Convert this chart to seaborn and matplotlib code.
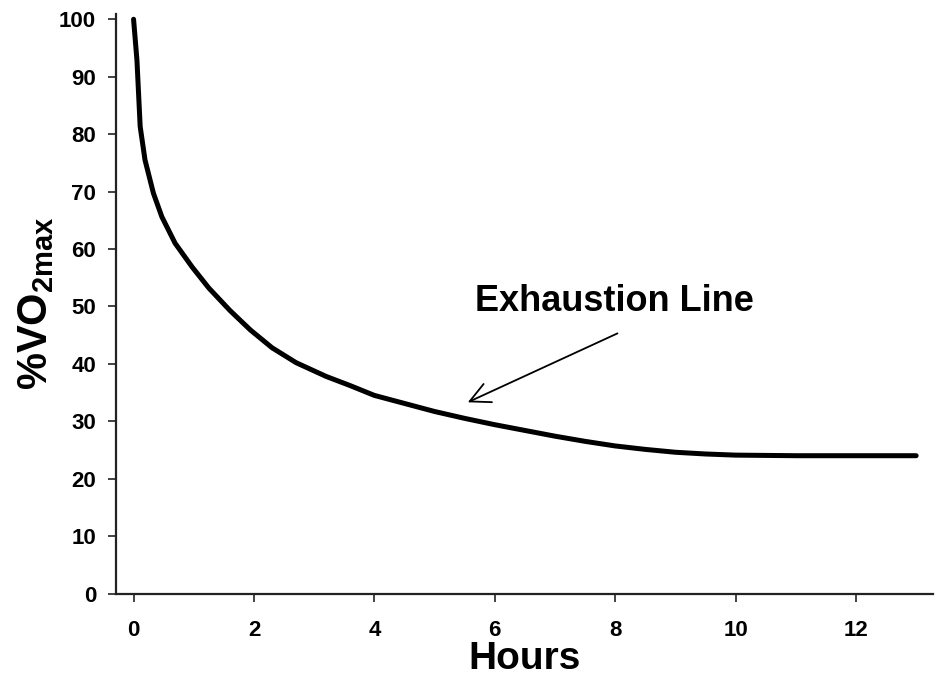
import numpy as np
import pandas as pd
import matplotlib
matplotlib.use("Agg")
import matplotlib.pyplot as plt
import seaborn as sns

# values
hours = [0, 0.056, 0.083, 0.11, 0.19, 0.33, 0.47, 0.69, 0.97, 1.25, 1.6,
         1.94, 2.3, 2.7, 3.2, 3.6, 4.0, 4.5, 5.0, 5.5, 6.0, 6.5, 7.0, 7.5,
         8.0, 8.5, 9.0, 9.5, 10, 11, 12, 13]
vo2 = [100, 92.9, 87.1, 81.3, 75.5, 69.7, 65.6, 61.0, 56.9, 53.2, 49.3,
       45.9, 42.8, 40.2, 37.8, 36.2, 34.5, 33.1, 31.7, 30.5, 29.4, 28.4, 27.4, 26.5,
       25.7, 25.1, 24.6, 24.3, 24.1, 24.0, 24.0, 24.0]
x_ticks = [0, 2, 4, 6, 8, 10, 12]
y_ticks = [0, 10, 20, 30, 40, 50, 60, 70, 80, 90, 100]
annot_text = "Exhaustion Line"
annot_xy = (5.51, 33.1)
annot_text_xy = (7.98, 50.8)
arrow_tail = (8.08, 45.5)

df = pd.DataFrame({"Hours": hours, "VO2": vo2})

sns.set_style("ticks")
plt.rcParams['font.family'] = ['Liberation Sans', 'DejaVu Sans']
plt.rcParams['font.weight'] = 'bold'
plt.rcParams['text.color'] = 'black'
plt.rcParams['axes.labelcolor'] = 'black'
plt.rcParams['xtick.color'] = 'black'
plt.rcParams['ytick.color'] = 'black'
plt.rcParams['mathtext.fontset'] = 'custom'
plt.rcParams['mathtext.rm'] = 'Liberation Sans:bold'
plt.rcParams['mathtext.it'] = 'Liberation Sans:bold'
plt.rcParams['mathtext.bf'] = 'Liberation Sans:bold'

fig = plt.figure(figsize=(9.36, 6.86), dpi=100)
ax = fig.add_axes([0.1234, 0.1348, 0.8734, 0.8455])

sns.lineplot(data=df, x="Hours", y="VO2", ax=ax, color="black",
             linewidth=3.6, solid_capstyle="round")

ax.set_xlim(-0.3, 13.28)
ax.set_ylim(0, 101)
ax.set_xticks(x_ticks)
ax.set_yticks(y_ticks)
ax.tick_params(axis="both", labelsize=16, width=1.2, length=6, color="#222222")
ax.tick_params(axis="y", pad=8)
ax.tick_params(axis="x", pad=13)
for lab in ax.get_xticklabels() + ax.get_yticklabels():
    lab.set_fontweight("bold")
sns.despine(ax=ax)
for s in ["left", "bottom"]:
    ax.spines[s].set_linewidth(1.6)
    ax.spines[s].set_color("#222222")

ax.set_xlabel("Hours", fontsize=28, fontweight="bold", labelpad=0)
ax.set_ylabel(r"%VO$_{2max}$", fontsize=30, fontweight="bold", labelpad=2)

ax.text(annot_text_xy[0], annot_text_xy[1], annot_text, fontsize=26,
        fontweight="bold", ha="center", va="center")
ax.annotate("", xy=annot_xy, xytext=arrow_tail,
            arrowprops=dict(arrowstyle="->", color="black", lw=1.3,
                            mutation_scale=36))

fig.savefig("out.png", dpi=100)
